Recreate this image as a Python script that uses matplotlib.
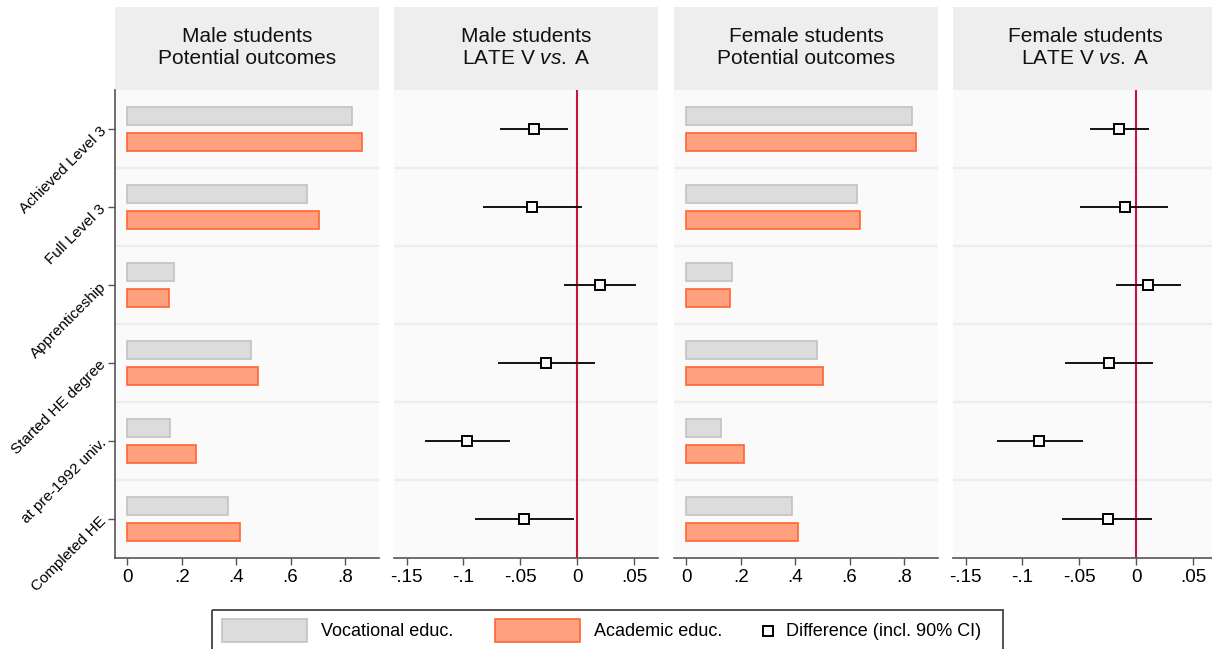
import matplotlib
matplotlib.use('Agg')
import matplotlib.pyplot as plt
from matplotlib.patches import Rectangle
import numpy as np

plt.rcParams['font.family'] = ['Liberation Sans', 'DejaVu Sans']
plt.rcParams['mathtext.fontset'] = 'custom'
plt.rcParams['mathtext.rm'] = 'Liberation Sans'
plt.rcParams['mathtext.it'] = 'Liberation Sans:italic'

# ---------------- data ----------------
categories = ["Achieved Level 3", "Full Level 3", "Apprenticeship",
              "Started HE degree", "at pre-1992 univ.", "Completed HE"]

male_vocational = [0.827, 0.662, 0.173, 0.453, 0.156, 0.369]
male_academic = [0.864, 0.703, 0.154, 0.479, 0.251, 0.415]
female_vocational = [0.829, 0.627, 0.168, 0.480, 0.127, 0.388]
female_academic = [0.844, 0.638, 0.160, 0.502, 0.212, 0.410]

male_late = [-0.038, -0.040, 0.020, -0.027, -0.097, -0.047]
male_lo = [-0.068, -0.083, -0.012, -0.070, -0.134, -0.090]
male_hi = [-0.008, 0.004, 0.052, 0.016, -0.059, -0.003]
female_late = [-0.015, -0.010, 0.010, -0.024, -0.085, -0.025]
female_lo = [-0.041, -0.049, -0.018, -0.063, -0.122, -0.065]
female_hi = [0.011, 0.028, 0.039, 0.015, -0.047, 0.014]

panel_titles = ["Male students\nPotential outcomes",
                "Male students\nLATE V $\\it{vs.}\\;$A",
                "Female students\nPotential outcomes",
                "Female students\nLATE V $\\it{vs.}\\;$A"]

po_ticks = [0, 0.2, 0.4, 0.6, 0.8]
po_ticklabels = ["0", ".2", ".4", ".6", ".8"]
late_ticks = [-0.15, -0.1, -0.05, 0, 0.05]
late_ticklabels = ["-.15", "-.1", "-.05", "0", ".05"]

legend_labels = ["Vocational educ.", "Academic educ.", "Difference (incl. 90% CI)"]

# ---------------- styles ----------------
W, H = 1212, 649
VOC_FC, VOC_EC = '#DCDCDC', '#C2C2C2'
ACA_FC, ACA_EC = '#FFA07F', '#FF6535'
HEADER_C = '#EEEEEE'
BG_C = '#FAFAFA'
SEP_C = '#E8EEF2'
AX_C = '#555555'
RED = '#C8143C'

fig = plt.figure(figsize=(W / 100, H / 100), dpi=100)

lefts = [115, 394, 674, 953]
pw = 264
top, bottom = 90, 558
head_top = 7

n = len(categories)
ypos = np.arange(n)
axes = []
for i, lx in enumerate(lefts):
    ax = fig.add_axes([lx / W, 1 - bottom / H, pw / W, (bottom - top) / H])
    axes.append(ax)
    ax.set_facecolor(BG_C)
    ax.set_ylim(n - 0.5, -0.5)
    for b in np.arange(0.5, n - 0.5, 1.0):
        ax.axhline(b, color=SEP_C, lw=1.6, zorder=0)
    for s in ['top', 'right', 'left']:
        ax.spines[s].set_visible(False)
    ax.spines['bottom'].set_color(AX_C)
    ax.spines['bottom'].set_linewidth(1.2)
    ax.tick_params(axis='x', length=5, width=1.0, color=AX_C, labelsize=13.5, pad=3)
    if i == 0:
        ax.spines['left'].set_visible(True)
        ax.spines['left'].set_color(AX_C)
        ax.spines['left'].set_linewidth(1.2)
        ax.set_yticks(ypos)
        ax.set_yticklabels(categories, rotation=45, ha='right', va='center',
                           rotation_mode='anchor', fontsize=11)
        ax.tick_params(axis='y', length=5, width=1.0, color=AX_C, pad=3)
    else:
        ax.set_yticks([])

bh = 0.23
off = 0.167
for ax, voc, aca in [(axes[0], male_vocational, male_academic),
                     (axes[2], female_vocational, female_academic)]:
    ax.barh(ypos - off, voc, height=bh, color=VOC_FC, edgecolor=VOC_EC, lw=1.2, zorder=2)
    ax.barh(ypos + off, aca, height=bh, color=ACA_FC, edgecolor=ACA_EC, lw=1.2, zorder=2)
    ax.set_xlim(-0.045, 0.925)
    ax.set_xticks(po_ticks)
    ax.set_xticklabels(po_ticklabels)

for ax, est, lo, hi in [(axes[1], male_late, male_lo, male_hi),
                        (axes[3], female_late, female_lo, female_hi)]:
    ax.axvline(0, color=RED, lw=1.5, zorder=1)
    ax.hlines(ypos, lo, hi, color='black', lw=1.3, zorder=3)
    ax.plot(est, ypos, 's', mfc=BG_C, mec='black', ms=7.5, mew=1.4, zorder=4)
    ax.set_xlim(-0.161, 0.071)
    ax.set_xticks(late_ticks)
    ax.set_xticklabels(late_ticklabels)

# ---------------- overlay: headers & legend ----------------
ov = fig.add_axes([0, 0, 1, 1], zorder=-1)
ov.set_xlim(0, W)
ov.set_ylim(H, 0)
ov.axis('off')
for lx, t in zip(lefts, panel_titles):
    ov.add_patch(Rectangle((lx, head_top), pw, top - head_top, color=HEADER_C, lw=0))
    ov.text(lx + pw / 2, (head_top + top) / 2 - 1, t, ha='center', va='center',
            fontsize=15, linespacing=1.15, color='#111111')

ov2 = fig.add_axes([0, 0, 1, 1], zorder=5)
ov2.set_xlim(0, W)
ov2.set_ylim(H, 0)
ov2.axis('off')
ov2.patch.set_alpha(0)
ov2.add_patch(Rectangle((211.5, 609.5), 791, 50, fill=False, ec='#333333', lw=1.2, clip_on=False))
ov2.add_patch(Rectangle((222, 619), 85, 23, fc=VOC_FC, ec=VOC_EC, lw=1.2))
ov2.add_patch(Rectangle((495, 619), 85, 23, fc=ACA_FC, ec=ACA_EC, lw=1.2))
ov2.plot([768], [631], 's', mfc='white', mec='black', ms=7.5, mew=1.4)
ov2.text(321, 631, legend_labels[0], ha='left', va='center', fontsize=13)
ov2.text(594, 631, legend_labels[1], ha='left', va='center', fontsize=13)
ov2.text(786, 631, legend_labels[2], ha='left', va='center', fontsize=13)

fig.savefig('out.png', dpi=100, facecolor='white')
